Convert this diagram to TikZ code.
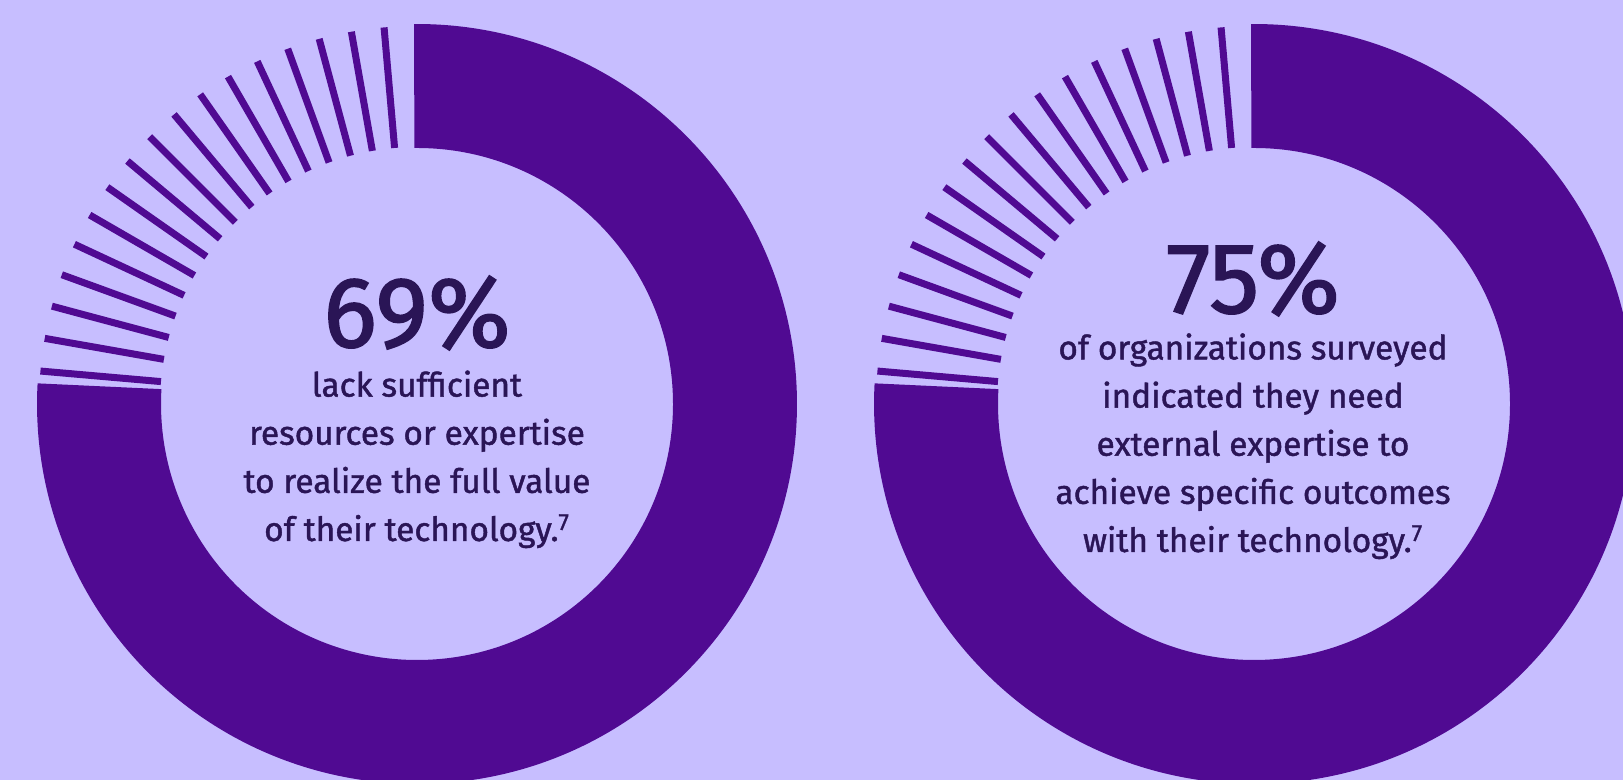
\documentclass[tikz,border=0pt]{standalone}
\usepackage{fontspec}
\newfontfamily\statfont{Fira Sans}[FakeBold=1.3]
\newfontfamily\numfont{Fira Sans}[FakeBold=1.6]
\usetikzlibrary{calc}
\definecolor{lavender}{RGB}{199,190,255}
\definecolor{ringpurple}{RGB}{80,10,146}
\definecolor{inkpurple}{RGB}{42,21,86}
\tikzset{ring/.style={draw=ringpurple, line width=2.48cm},
  tickmark/.style={draw=ringpurple, line width=0.14cm},
  bignum/.style={anchor=base, inner sep=0pt, text=inkpurple, font=\numfont\fontsize{57}{57}\selectfont},
  blurb/.style={anchor=base, inner sep=0pt, align=center, text=inkpurple, font=\statfont\fontsize{19}{27.4}\selectfont}}
\begin{document}
\begin{tikzpicture}[x=0.02cm,y=0.02cm]
\fill[lavender] (0,0) rectangle (1623,780);
\useasboundingbox (0,0) rectangle (1623,780);
\coordinate (cl) at (417,376);
\coordinate (cr) at (1254,376);
% left donut
\draw[ring] (cl) ++(90.5:318) arc[start angle=90.5, end angle=-183.2, radius=318];
\foreach \a in {95,100,...,175}
  \draw[tickmark] ($(cl)+(\a:257)$) -- ($(cl)+(\a:378)$);
\node[bignum] (pctleft) at (417,433) {69\%};
\node[blurb] (txtleft) at (417,239) {lack sufficient\\resources or expertise\\to realize the full value\\of their technology.\textsuperscript{7}};
% right donut
\draw[ring] (cr) ++(90.5:318) arc[start angle=90.5, end angle=-183.2, radius=318];
\foreach \a in {95,100,...,175}
  \draw[tickmark] ($(cr)+(\a:257)$) -- ($(cr)+(\a:378)$);
\node[bignum] (pctright) at (1253,467) {75\%};
\node[blurb] (txtright) at (1253,228) {of organizations surveyed\\indicated they need\\external expertise to\\achieve specific outcomes\\with their technology.\textsuperscript{7}};
\end{tikzpicture}
\end{document}
